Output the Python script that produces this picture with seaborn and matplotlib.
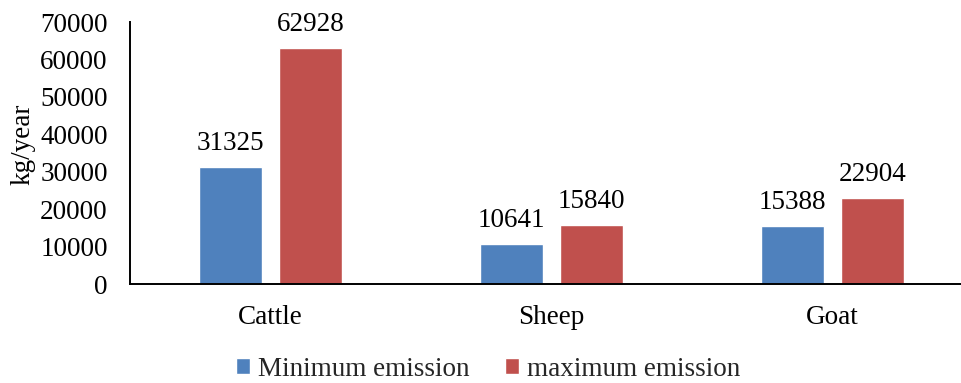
import matplotlib
matplotlib.use("Agg")
import matplotlib.pyplot as plt
import seaborn as sns
import pandas as pd

# Livestock emission estimates (kg/year)
animals = ["Cattle", "Sheep", "Goat"]
min_emission = [31325, 10641, 15388]
max_emission = [62928, 15840, 22904]
series_names = ["Minimum emission", "maximum emission"]
y_ticks = [0, 10000, 20000, 30000, 40000, 50000, 60000, 70000]

df = pd.DataFrame({
    "animal": animals * 2,
    "value": min_emission + max_emission,
    "series": [series_names[0]] * len(animals) + [series_names[1]] * len(animals),
})

sns.set_theme(style="white")
plt.rcParams["font.family"] = ["Liberation Serif", "DejaVu Serif"]
FS = 19.5

fig = plt.figure(figsize=(9.61, 3.83), dpi=100)
ax = fig.add_axes([130 / 961, 1 - 284 / 383, 1 - 130 / 961, (284 - 22) / 383])

sns.barplot(
    data=df, x="animal", y="value", hue="series",
    palette=["#4F81BD", "#C0504D"], width=0.569, gap=0.2125,
    saturation=1, ax=ax, legend=True,
)

for container in ax.containers:
    ax.bar_label(container, fmt="%d", padding=8, fontsize=FS, color="black")

ax.set_ylim(0, 70000)
ax.set_yticks(y_ticks)
ax.set_yticklabels([str(v) for v in y_ticks])
ax.set_xlim(-0.5, -0.5 + (961 - 130) / 281)
ax.tick_params(axis="both", length=0, labelsize=FS, colors="black")
ax.tick_params(axis="y", pad=16)
ax.tick_params(axis="x", pad=15)
ax.set_xlabel("")
ax.set_ylabel("kg/year", fontsize=FS, color="black")
ax.yaxis.set_label_coords(-0.114, 0.535)

for side in ["top", "right"]:
    ax.spines[side].set_visible(False)
for side in ["left", "bottom"]:
    ax.spines[side].set_color("black")
    ax.spines[side].set_linewidth(1.4)

handles, labels = ax.get_legend_handles_labels()
ax.get_legend().remove()
fig.legend(
    handles, labels, loc="center", bbox_to_anchor=(488 / 961, 1 - 369 / 383),
    ncol=2, frameon=False, fontsize=FS, handlelength=0.52, handleheight=0.52,
    handletextpad=0.3, columnspacing=1.3,
)

fig.savefig("out.png", dpi=100)
